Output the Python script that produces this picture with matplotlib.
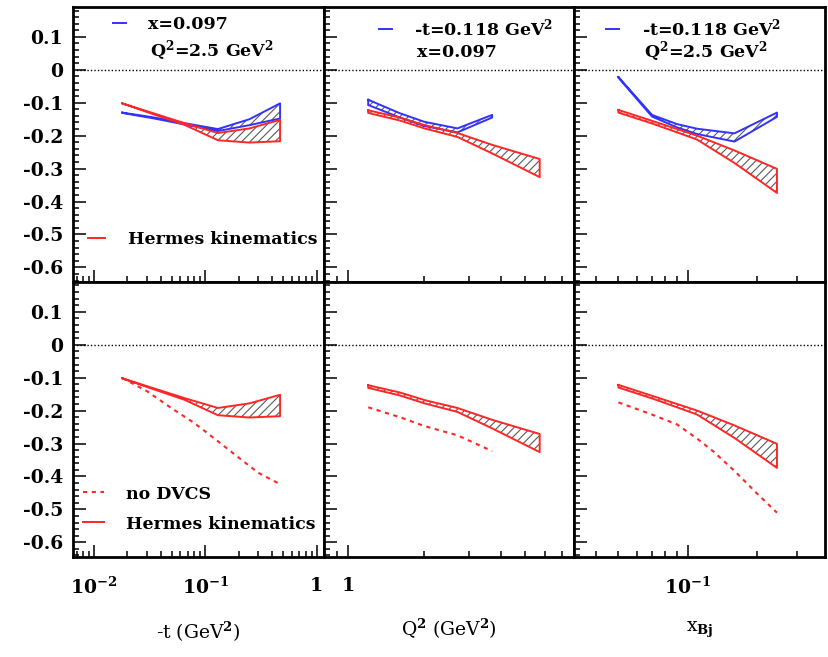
import matplotlib
matplotlib.use("Agg")
import matplotlib.pyplot as plt
import numpy as np
from matplotlib.ticker import MultipleLocator, LogLocator, NullFormatter

# model curves: upper/lower edge of each band, plus the "no DVCS" curve
t_pts = [0.018, 0.035, 0.065, 0.13, 0.25, 0.47]
t_blue_hi = [-0.130, -0.145, -0.162, -0.180, -0.150, -0.102]
t_blue_lo = [-0.131, -0.148, -0.166, -0.186, -0.168, -0.148]
t_red_hi = [-0.102, -0.133, -0.162, -0.192, -0.178, -0.152]
t_red_lo = [-0.102, -0.136, -0.167, -0.214, -0.221, -0.217]
t_nodvcs_pts = [0.018, 0.03, 0.05, 0.08, 0.13, 0.2, 0.3, 0.45]
t_nodvcs = [-0.101, -0.141, -0.193, -0.238, -0.293, -0.343, -0.389, -0.420]

q_pts = [1.2, 1.6, 2.0, 2.7, 3.7, 5.7]
q_red_hi = [-0.123, -0.145, -0.168, -0.192, -0.228, -0.271]
q_red_lo = [-0.131, -0.154, -0.178, -0.204, -0.254, -0.326]
q_blue_pts = [1.2, 1.6, 2.0, 2.7, 3.7]
q_blue_hi = [-0.091, -0.132, -0.158, -0.178, -0.137]
q_blue_lo = [-0.107, -0.145, -0.171, -0.190, -0.145]
q_nodvcs_pts = [1.2, 1.6, 2.0, 2.7, 3.7]
q_nodvcs = [-0.190, -0.220, -0.247, -0.275, -0.323]

xb_pts = [0.05, 0.07, 0.09, 0.11, 0.16, 0.245]
xb_blue_hi = [-0.022, -0.137, -0.165, -0.179, -0.193, -0.130]
xb_blue_lo = [-0.024, -0.142, -0.175, -0.195, -0.218, -0.143]
xb_red_hi = [-0.122, -0.155, -0.180, -0.200, -0.245, -0.301]
xb_red_lo = [-0.130, -0.163, -0.190, -0.212, -0.283, -0.374]
xb_nodvcs_pts = [0.05, 0.07, 0.09, 0.11, 0.13, 0.16, 0.2, 0.245]
xb_nodvcs = [-0.175, -0.212, -0.242, -0.285, -0.325, -0.383, -0.451, -0.510]

y_ticks = [0.1, 0, -0.1, -0.2, -0.3, -0.4, -0.5, -0.6]
y_labels = ["0.1", "0", "-0.1", "-0.2", "-0.3", "-0.4", "-0.5", "-0.6"]

x_ticks = [[0.01, 0.1, 1], [1], [0.1]]
x_labels = [[r"$\mathbf{10^{-2}}$", r"$\mathbf{10^{-1}}$", "1"], ["1"], [r"$\mathbf{10^{-1}}$"]]
x_lims = [(0.0065, 1.155), (0.80, 7.8), (0.0321, 0.396)]
x_titles = [r"-t (GeV$^{\mathbf{2}}$)", r"Q$^{\mathbf{2}}$ (GeV$^{\mathbf{2}}$)", r"x$_{\mathbf{Bj}}$"]

plt.rcParams["font.family"] = "DejaVu Serif"
plt.rcParams["font.weight"] = "bold"
plt.rcParams["mathtext.fontset"] = "dejavuserif"
plt.rcParams["hatch.linewidth"] = 0.8
plt.rcParams["axes.unicode_minus"] = False

RED = "#ff2626"
BLUE = "#3232ff"
FS = 12.5


def band(ax, x, lo, hi, color):
    x, lo, hi = np.asarray(x), np.asarray(lo), np.asarray(hi)
    ax.fill_between(x, lo, hi, facecolor="none", edgecolor="0.35", lw=0, hatch="////")
    line, = ax.plot(np.r_[x, x[::-1], x[:1]], np.r_[hi, lo[::-1], hi[:1]], color=color, lw=1.4)
    return line


def dotted(ax, x, y):
    line, = ax.plot(x, y, color=RED, lw=1.5, ls=(0, (2, 2.2)))
    return line


fig, axes = plt.subplots(2, 3, figsize=(8.29, 6.57), dpi=100)
fig.subplots_adjust(left=0.088, right=0.995, top=0.989, bottom=0.152, wspace=0, hspace=0)

for r in range(2):
    for c in range(3):
        ax = axes[r, c]
        ax.set_xscale("log")
        ax.set_xlim(*x_lims[c])
        ax.set_ylim(-0.645, 0.19)
        ax.axhline(0, color="black", lw=1.0, ls=(0, (1, 1.5)))
        ax.set_yticks(y_ticks, y_labels if c == 0 else [""] * len(y_ticks))
        ax.yaxis.set_minor_locator(MultipleLocator(0.02))
        ax.set_xticks(x_ticks[c], x_labels[c] if r == 1 else [""] * len(x_ticks[c]))
        ax.xaxis.set_minor_locator(LogLocator(base=10, subs=np.arange(2, 10), numticks=20))
        ax.xaxis.set_minor_formatter(NullFormatter())
        ax.tick_params(which="both", direction="in", top=False, right=False, width=1.1)
        ax.tick_params(which="major", length=9, labelsize=13.5)
        ax.tick_params(which="minor", length=4.5)
        ax.tick_params(axis="y", pad=7)
        ax.tick_params(axis="x", pad=14)
        for s in ax.spines.values():
            s.set_linewidth(2)
        if r == 1:
            ax.set_xlabel(x_titles[c], fontsize=13.5, labelpad=16)

leg_kw = dict(frameon=False, borderpad=0, borderaxespad=0, fontsize=FS, loc="center left")

# top row: blue vs red kinematics
ax = axes[0, 0]
hb = band(ax, t_pts, t_blue_lo, t_blue_hi, BLUE)
hr = band(ax, t_pts, t_red_lo, t_red_hi, RED)
lg = ax.legend([hb], ["x=0.097"], bbox_to_anchor=(0.159, 0.938), handlelength=0.75, handletextpad=1.3, **leg_kw)
ax.add_artist(lg)
ax.text(0.306, 0.844, r"Q$^{\mathbf{2}}$=2.5 GeV$^{\mathbf{2}}$", transform=ax.transAxes, va="center", fontsize=FS)
ax.legend([hr], ["Hermes kinematics"], bbox_to_anchor=(0.06, 0.156), handlelength=1.0, handletextpad=1.3, **leg_kw)

ax = axes[0, 1]
hb = band(ax, q_blue_pts, q_blue_lo, q_blue_hi, BLUE)
band(ax, q_pts, q_red_lo, q_red_hi, RED)
ax.legend([hb], [r"-t=0.118 GeV$^{\mathbf{2}}$"], bbox_to_anchor=(0.22, 0.924), handlelength=0.75, handletextpad=1.3, **leg_kw)
ax.text(0.372, 0.837, "x=0.097", transform=ax.transAxes, va="center", fontsize=FS)

ax = axes[0, 2]
hb = band(ax, xb_pts, xb_blue_lo, xb_blue_hi, BLUE)
band(ax, xb_pts, xb_red_lo, xb_red_hi, RED)
ax.legend([hb], [r"-t=0.118 GeV$^{\mathbf{2}}$"], bbox_to_anchor=(0.128, 0.924), handlelength=0.75, handletextpad=1.3, **leg_kw)
ax.text(0.28, 0.837, r"Q$^{\mathbf{2}}$=2.5 GeV$^{\mathbf{2}}$", transform=ax.transAxes, va="center", fontsize=FS)

# bottom row: Hermes kinematics with and without DVCS
ax = axes[1, 0]
hr = band(ax, t_pts, t_red_lo, t_red_hi, RED)
hd = dotted(ax, t_nodvcs_pts, t_nodvcs)
ax.legend([hd, hr], ["no DVCS", "Hermes kinematics"], bbox_to_anchor=(0.04, 0.175),
          handlelength=1.2, handletextpad=1.3, labelspacing=0.75, **leg_kw)

ax = axes[1, 1]
band(ax, q_pts, q_red_lo, q_red_hi, RED)
dotted(ax, q_nodvcs_pts, q_nodvcs)

ax = axes[1, 2]
band(ax, xb_pts, xb_red_lo, xb_red_hi, RED)
dotted(ax, xb_nodvcs_pts, xb_nodvcs)

fig.savefig("out.png", dpi=100)
